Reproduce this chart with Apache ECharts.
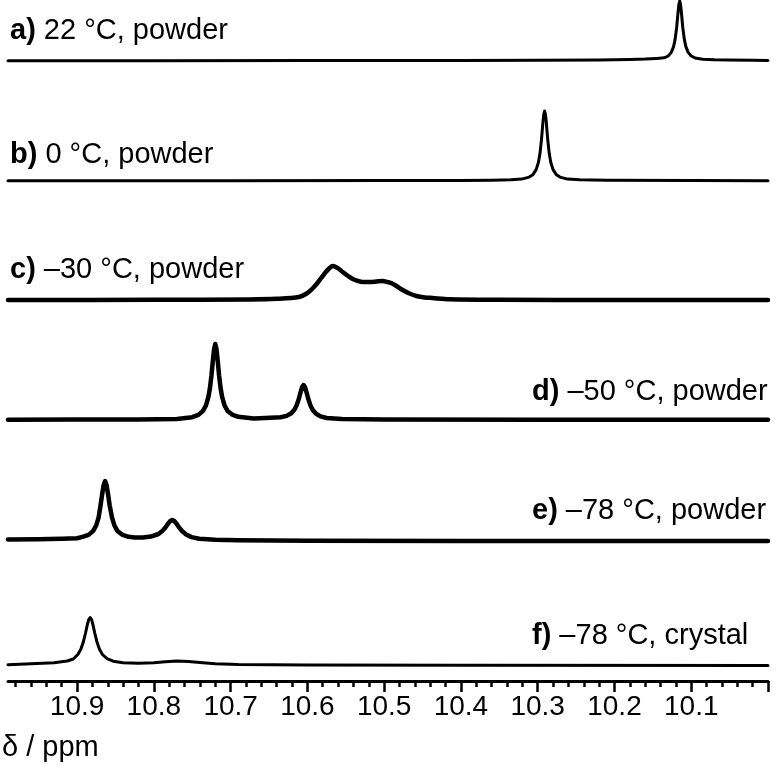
<!DOCTYPE html>
<html>
<head>
<meta charset="utf-8">
<script src="https://cdn.jsdelivr.net/npm/echarts@6/dist/echarts.min.js"></script>
<style>
  html, body { margin: 0; padding: 0; background: #fff; }
  #chart { width: 778px; height: 767px; }
</style>
</head>
<body>
<div id="chart"></div>
<script>
// ---- data: [chemical shift (ppm), intensity above baseline] ----
const specA = [[10.99,0.3],[10.80,0.3],[10.60,0.4],[10.40,0.5],[10.30,0.7],[10.22,1.0],[10.18,1.4],[10.16,1.9],[10.145,2.6],[10.135,3.2],[10.130,5.0],[10.126,8.6],[10.123,14.4],[10.121,21.6],[10.119,33.5],[10.117,50],[10.116,57],[10.115,60],[10.114,57],[10.113,50],[10.111,33.5],[10.109,21.6],[10.107,14.4],[10.104,8.6],[10.100,5.0],[10.095,3.0],[10.085,1.8],[10.07,1.2],[10.05,0.9],[10.02,0.7],[10.0,0.6]];
const specB = [[10.99,0.2],[10.70,0.3],[10.50,0.4],[10.40,0.5],[10.36,0.8],[10.335,1.3],[10.321,1.9],[10.311,3.9],[10.306,6.6],[10.302,11.4],[10.299,18.8],[10.297,27.7],[10.295,41.9],[10.293,60.5],[10.292,67],[10.291,70],[10.290,67],[10.289,60.5],[10.287,41.9],[10.285,27.7],[10.283,18.8],[10.280,11.4],[10.276,6.6],[10.271,3.9],[10.261,1.9],[10.245,1.2],[10.21,0.7],[10.10,0.4],[10.0,0.3]];
const specC = [[10.99,0],[10.80,0.2],[10.676,0.6],[10.64,1.2],[10.611,3],[10.60,7],[10.594,11],[10.588,16],[10.582,22],[10.576,28],[10.571,32],[10.567,34],[10.563,33],[10.558,30.5],[10.554,28],[10.547,24],[10.541,21],[10.534,19],[10.528,18],[10.518,18],[10.51,18.5],[10.502,19],[10.496,18],[10.491,17],[10.484,14],[10.476,10],[10.467,6.5],[10.458,4],[10.447,2.6],[10.437,2],[10.415,0.8],[10.35,0.3],[10.2,0],[10.0,0]];
const specD = [[10.99,0.3],[10.90,0.4],[10.82,0.6],[10.77,1.1],[10.75,2.8],[10.742,5.1],[10.736,9.1],[10.732,14.8],[10.729,22.8],[10.727,31.5],[10.725,44.3],[10.723,60.4],[10.7215,71.3],[10.720,76],[10.7185,71.3],[10.717,60.4],[10.715,44.3],[10.713,31.5],[10.711,22.8],[10.708,14.8],[10.704,9.1],[10.698,5.4],[10.69,3.2],[10.67,1.6],[10.655,2.0],[10.635,2.7],[10.627,4.1],[10.621,6.7],[10.617,10.2],[10.614,14.8],[10.611,21.5],[10.609,27.4],[10.607,32.7],[10.605,35],[10.603,32.7],[10.601,27.4],[10.599,21.5],[10.596,14.6],[10.593,10],[10.589,6.5],[10.583,3.7],[10.575,2.0],[10.555,0.9],[10.50,0.5],[10.30,0.3],[10.0,0.2]];
const specE = [[10.99,1.5],[10.95,1.8],[10.92,2.2],[10.90,2.8],[10.893,4.1],[10.885,6.1],[10.879,10.1],[10.875,15.8],[10.872,23.4],[10.8695,35.4],[10.8675,45.8],[10.8655,55.7],[10.8635,60],[10.8615,55.7],[10.8595,45.8],[10.8575,35.4],[10.8545,23.4],[10.8515,15.8],[10.8475,10.1],[10.8415,6.4],[10.833,4.2],[10.825,3.6],[10.814,3.5],[10.804,4.4],[10.794,7],[10.789,10],[10.785,13.4],[10.782,16.8],[10.779,19.7],[10.776,21],[10.773,19.7],[10.770,16.8],[10.767,13.4],[10.763,9.7],[10.758,6.5],[10.751,3.9],[10.741,2.2],[10.72,1.2],[10.69,0.7],[10.60,0.3],[10.40,0.1],[10.0,0]];
const specF = [[10.99,0.8],[10.96,1.8],[10.93,2.8],[10.913,4.5],[10.905,6.5],[10.899,11],[10.895,16.5],[10.892,23.2],[10.889,32.5],[10.887,39.6],[10.885,45.6],[10.883,48],[10.881,45.6],[10.879,39.6],[10.877,32.5],[10.874,23.2],[10.871,16.5],[10.867,11],[10.861,6.8],[10.853,4.3],[10.84,2.8],[10.82,2.2],[10.80,2.8],[10.785,3.8],[10.77,4.4],[10.755,4.0],[10.74,3.0],[10.72,1.8],[10.69,1.0],[10.60,0.5],[10.40,0.2],[10.0,0]];

const spectra = [specA, specB, specC, specD, specE, specF];
const labelTags = ['a)', 'b)', 'c)', 'd)', 'e)', 'f)'];
const labelTexts = ['22 °C, powder', '0 °C, powder', '–30 °C, powder', '–50 °C, powder', '–78 °C, powder', '–78 °C, crystal'];
const majorTicks = [10.0, 10.1, 10.2, 10.3, 10.4, 10.5, 10.6, 10.7, 10.8, 10.9];
const tickLabels = [10.1, 10.2, 10.3, 10.4, 10.5, 10.6, 10.7, 10.8, 10.9];
const axisTitle = 'δ / ppm';

// ---- layout ----
const FONT = '"Liberation Sans", Arial, Helvetica, sans-serif';
const baselines = [61, 181, 300, 420, 541, 665.5];
const GH = 100;
const noisy = [false, false, true, true, true, false];
const labelPos = [[10, 31], [10, 155], [10, 270], [532, 392], [532, 511], [532, 636]];
const AXIS_Y = 681;

const grids = [], xAxes = [], yAxes = [], series = [];
spectra.forEach((s, i) => {
  const h = Math.min(GH, baselines[i]);
  grids.push({ left: 8, right: 10, top: baselines[i] - h, height: h });
  xAxes.push({ type: 'value', gridIndex: i, min: 10.0, max: 10.99, inverse: true, show: false });
  yAxes.push({ type: 'value', gridIndex: i, min: 0, max: h, show: false });
  series.push({
    type: 'line', xAxisIndex: i, yAxisIndex: i, data: s, showSymbol: false, symbol: 'none',
    smooth: i === 2 ? 0.3 : false, clip: false,
    lineStyle: { color: '#000', width: noisy[i] ? 4.5 : 3, join: 'round', cap: 'round' },
    silent: true
  });
});
// dedicated grid carrying the visible ppm axis
const ai = spectra.length;
grids.push({ left: 8, right: 10, top: AXIS_Y - 10, height: 10 });
xAxes.push({
  type: 'value', gridIndex: ai, min: 10.0, max: 10.99, interval: 0.1, inverse: true, position: 'bottom',
  axisLine: { show: true, lineStyle: { color: '#000', width: 3 } },
  axisTick: { show: true, length: 11, lineStyle: { color: '#000', width: 2.5 }, customValues: majorTicks },
  minorTick: { show: true, splitNumber: 5, length: 6, lineStyle: { color: '#000', width: 2.5 } },
  axisLabel: { show: true, margin: 12, fontSize: 28, fontFamily: FONT, color: '#000',
    customValues: tickLabels,
    formatter: v => (v > 10.05 && v < 10.95) ? v.toFixed(1) : '' },
  splitLine: { show: false }, minorSplitLine: { show: false }
});
yAxes.push({ type: 'value', gridIndex: ai, min: 0, max: 1, show: false });

const graphics = labelTags.map((tag, i) => ({
  type: 'text', x: labelPos[i][0], y: labelPos[i][1],
  style: {
    text: '{b|' + tag + '} ' + labelTexts[i],
    fontSize: 29, fontFamily: FONT, fill: '#000', verticalAlign: 'middle', align: 'left',
    rich: { b: { fontSize: 29, fontFamily: FONT, fontWeight: 'bold', fill: '#000' } }
  }
}));
graphics.push({
  type: 'text', x: 2, y: 748,
  style: { text: axisTitle, fontSize: 29, fontFamily: FONT, fill: '#000', verticalAlign: 'middle' }
});

const chart = echarts.init(document.getElementById('chart'), null, { renderer: 'canvas' });
chart.setOption({
  animation: false,
  backgroundColor: '#fff',
  grid: grids, xAxis: xAxes, yAxis: yAxes, series: series, graphic: graphics
});
</script>
</body>
</html>
